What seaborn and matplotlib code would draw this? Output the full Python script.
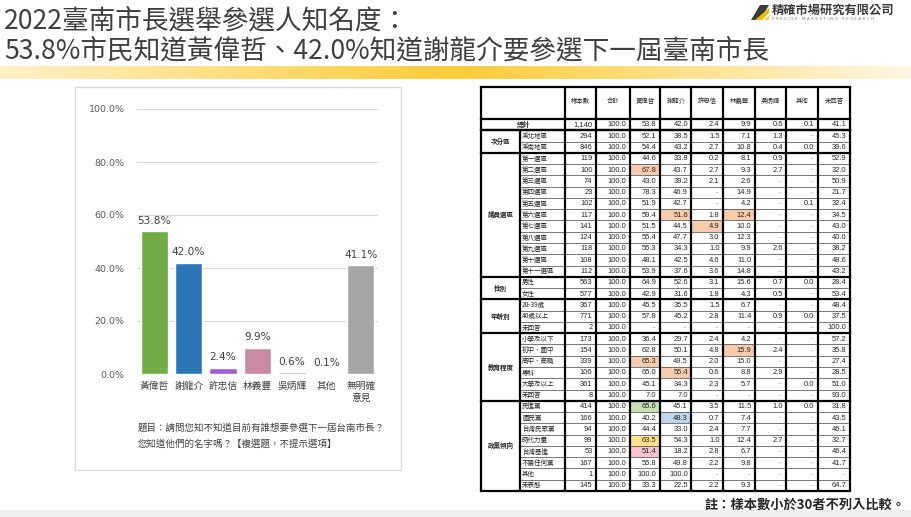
import matplotlib
matplotlib.use('Agg')
import matplotlib.pyplot as plt
import seaborn as sns
import numpy as np
from matplotlib.patches import Rectangle, Polygon
from matplotlib.colors import to_rgb

sns.set_theme(style='white')
plt.rcParams['font.family'] = ['Noto Sans CJK TC', 'DejaVu Sans']

# ---------------- data ----------------
title_line1 = '2022臺南市長選舉參選人知名度：'
title_line2 = '53.8%市民知道黃偉哲、42.0%知道謝龍介要參選下一屆臺南市長'

candidates = ['黃偉哲', '謝龍介', '許忠信', '林義豐', '吳炳輝', '其他', '無明確\n意見']
awareness = [53.8, 42.0, 2.4, 9.9, 0.6, 0.1, 41.1]
bar_colors = ['#70AD47', '#2E75B6', '#A05FD2', '#C98AA3', '#B4A5E6', '#D9D9D9', '#A5A5A5']
y_ticks = [0, 20, 40, 60, 80, 100]
question = '題目：請問您知不知道目前有誰想要參選下一屆台南市長？\n您知道他們的名字嗎？【複選題，不提示選項】'
note = '註：樣本數小於30者不列入比較。'

col_names = ['樣本數', '合計', '黃偉哲', '謝龍介', '許忠信', '林義豐', '吳炳輝', '其他', '未回答']
total_label = '總計'
total_vals = ['1,140', '100.0', '53.8', '42.0', '2.4', '9.9', '0.6', '0.1', '41.1']

group_names = ['次分區', '議員選區', '性別', '年齡別', '教育程度', '政黨傾向']

region_rows = ['溪北地區', '溪南地區']
region_vals = [
    ['294', '100.0', '52.1', '38.5', '1.5', '7.1', '1.3', '-', '45.3'],
    ['846', '100.0', '54.4', '43.2', '2.7', '10.8', '0.4', '0.0', '39.6'],
]
district_rows = ['第一選區', '第二選區', '第三選區', '第四選區', '第五選區', '第六選區',
                 '第七選區', '第八選區', '第九選區', '第十選區', '第十一選區']
district_vals = [
    ['119', '100.0', '44.6', '33.8', '0.2', '8.1', '0.9', '-', '52.9'],
    ['100', '100.0', '67.8', '43.7', '2.7', '9.3', '2.7', '-', '32.0'],
    ['74', '100.0', '43.0', '39.2', '2.1', '2.6', '-', '-', '50.9'],
    ['23', '100.0', '78.3', '46.9', '-', '14.9', '-', '-', '21.7'],
    ['102', '100.0', '51.9', '42.7', '-', '4.2', '-', '0.1', '32.4'],
    ['117', '100.0', '59.4', '51.6', '1.8', '12.4', '-', '-', '34.5'],
    ['141', '100.0', '51.5', '44.5', '4.9', '10.0', '-', '-', '43.0'],
    ['124', '100.0', '55.4', '47.7', '3.0', '12.3', '-', '-', '40.0'],
    ['118', '100.0', '55.3', '34.3', '1.0', '9.9', '2.6', '-', '38.2'],
    ['108', '100.0', '48.1', '42.5', '4.6', '11.0', '-', '-', '48.6'],
    ['112', '100.0', '53.9', '37.6', '3.6', '14.8', '-', '-', '43.2'],
]
gender_rows = ['男性', '女性']
gender_vals = [
    ['563', '100.0', '64.9', '52.6', '3.1', '15.6', '0.7', '0.0', '28.4'],
    ['577', '100.0', '42.9', '31.6', '1.8', '4.3', '0.5', '-', '53.4'],
]
age_rows = ['20-39歲', '40歲以上', '未回答']
age_vals = [
    ['367', '100.0', '45.5', '35.5', '1.5', '6.7', '-', '-', '48.4'],
    ['771', '100.0', '57.8', '45.2', '2.8', '11.4', '0.9', '0.0', '37.5'],
    ['2', '100.0', '-', '-', '-', '-', '-', '-', '100.0'],
]
edu_rows = ['小學及以下', '初中、國中', '高中、高職', '專科', '大學及以上', '未回答']
edu_vals = [
    ['173', '100.0', '36.4', '29.7', '2.4', '4.2', '-', '-', '57.2'],
    ['154', '100.0', '62.8', '50.1', '4.8', '15.9', '2.4', '-', '35.8'],
    ['339', '100.0', '65.3', '49.5', '2.0', '15.0', '-', '-', '27.4'],
    ['106', '100.0', '65.0', '55.4', '0.6', '8.8', '2.9', '-', '28.5'],
    ['361', '100.0', '45.1', '34.3', '2.3', '5.7', '-', '0.0', '51.0'],
    ['8', '100.0', '7.0', '7.0', '-', '-', '-', '-', '93.0'],
]
party_rows = ['民進黨', '國民黨', '台灣民眾黨', '時代力量', '台灣基進', '不屬任何黨', '其他', '未表態']
party_vals = [
    ['414', '100.0', '65.6', '45.1', '3.5', '11.5', '1.0', '0.0', '31.8'],
    ['166', '100.0', '40.2', '48.3', '0.7', '7.4', '-', '-', '43.5'],
    ['94', '100.0', '44.4', '33.0', '2.4', '7.7', '-', '-', '46.1'],
    ['99', '100.0', '63.5', '54.3', '1.0', '12.4', '2.7', '-', '32.7'],
    ['53', '100.0', '51.4', '18.2', '2.8', '6.7', '-', '-', '46.4'],
    ['167', '100.0', '55.8', '49.8', '2.2', '9.8', '-', '-', '41.7'],
    ['1', '100.0', '100.0', '100.0', '-', '-', '-', '-', '-'],
    ['145', '100.0', '33.3', '22.5', '2.2', '9.3', '-', '-', '64.7'],
]

# highlighted cells: (group, row label, column, colour)
highlights = [
    ('議員選區', '第二選區', '黃偉哲', '#F8CBAD'),
    ('議員選區', '第六選區', '謝龍介', '#F8CBAD'),
    ('議員選區', '第六選區', '林義豐', '#F8CBAD'),
    ('議員選區', '第七選區', '許忠信', '#F8CBAD'),
    ('教育程度', '初中、國中', '林義豐', '#F8CBAD'),
    ('教育程度', '高中、高職', '黃偉哲', '#F8CBAD'),
    ('教育程度', '專科', '謝龍介', '#F8CBAD'),
    ('政黨傾向', '民進黨', '黃偉哲', '#C6E0B4'),
    ('政黨傾向', '國民黨', '謝龍介', '#BDD7EE'),
    ('政黨傾向', '時代力量', '黃偉哲', '#FFE38A'),
    ('政黨傾向', '台灣基進', '黃偉哲', '#F8C5CF'),
]

groups = [
    (group_names[0], region_rows, region_vals),
    (group_names[1], district_rows, district_vals),
    (group_names[2], gender_rows, gender_vals),
    (group_names[3], age_rows, age_vals),
    (group_names[4], edu_rows, edu_vals),
    (group_names[5], party_rows, party_vals),
]

# ---------------- figure ----------------
W, H = 912, 517
fig = plt.figure(figsize=(W / 100, H / 100), dpi=100)
fig.patch.set_facecolor('white')
bg = fig.add_axes([0, 0, 1, 1], zorder=0)
bg.set_xlim(0, W)
bg.set_ylim(H, 0)
bg.axis('off')

# title
title_color = '#3F3F3F'
bg.text(4, 21, title_line1, fontsize=19.2, color=title_color, va='center', ha='left')
bg.text(4, 51, title_line2, fontsize=19.2, color=title_color, va='center', ha='left')

# yellow gradient band
stops = [(0.0, '#FFF1C8'), (0.5, '#FFCB38'), (1.0, '#FFF7E2')]
xs = np.linspace(0, 1, 400)
grad = np.zeros((1, 400, 3))
for k in range(3):
    grad[0, :, k] = np.interp(xs, [s[0] for s in stops], [to_rgb(s[1])[k] for s in stops])
bg.imshow(grad, extent=[0, W, 79, 66], aspect='auto', zorder=1)

# bottom grey band
bg.add_patch(Rectangle((0, 510), W, 7, facecolor='#F0F0F0', edgecolor='none'))

# logo
bg.add_patch(Polygon([[751, 20], [760, 5], [769, 5], [760, 20]], closed=True, facecolor='#3A3A3A', edgecolor='none'))
bg.add_patch(Polygon([[755, 20], [769, 8], [769, 13], [762, 20]], closed=True, facecolor='#F2B705', edgecolor='none'))
bg.add_patch(Polygon([[764, 20], [769, 15], [769, 20]], closed=True, facecolor='#F7CF45', edgecolor='none'))
bg.text(772, 10, '精確市場研究有限公司', fontsize=8.8, fontweight='bold', color='#3A3A3A', va='center', ha='left')
bg.text(772, 19.5, 'P R E C I S E   M A R K E T I N G   R E S E A R C H', fontsize=3.1, color='#7F7F7F',
        va='center', ha='left', family=['DejaVu Sans'])

# chart box
bg.add_patch(Rectangle((75, 87), 326, 383, facecolor='white', edgecolor='#D9D9D9', lw=1))
bg.text(138, 436, question, fontsize=6.8, color='#404040', va='center', ha='left', linespacing=1.75)

# note
bg.text(906, 505, note, fontsize=9.5, fontweight='bold', color='#262626', va='center', ha='right')

# ---------------- bar chart ----------------
ax = fig.add_axes([137 / W, 1 - 374 / H, (378 - 137) / W, (374 - 109) / H], zorder=2)
ax.set_facecolor('none')
sns.barplot(x=candidates, y=awareness, hue=candidates, palette=bar_colors, legend=False,
            width=0.79, saturation=1, ax=ax, zorder=3)
ax.set_ylim(0, 100)
ax.set_xlim(-0.5, len(candidates) - 0.5)
ax.set_yticks(y_ticks)
ax.set_yticklabels([f'{t:.1f}%' for t in y_ticks], fontsize=6.8, color='#595959',
                   family=['DejaVu Sans'])
ax.tick_params(axis='y', length=0, pad=9)
ax.tick_params(axis='x', length=0, pad=5, labelsize=7, labelcolor='#404040')
for t in y_ticks:
    ax.axhline(t, color='#D9D9D9', lw=0.8, zorder=1)
for s in ax.spines.values():
    s.set_visible(False)
ax.set_xlabel('')
ax.set_ylabel('')
for cont, v in zip(ax.containers, awareness):
    ax.bar_label(cont, labels=[f'{v:.1f}%'], padding=4, fontsize=7.6, color='#404040',
                 family=['DejaVu Sans'])

# ---------------- table ----------------
col_x = [481, 520, 565, 596, 630, 660, 691.5, 723, 755, 786.5, 818, 850]
head_top, head_bot, table_bot = 87, 119, 491
n_rows = 1 + sum(len(g[1]) for g in groups)
row_h = (table_bot - head_bot) / n_rows
num_font = ['Liberation Sans', 'DejaVu Sans']
lab_font = ['Noto Sans CJK TC', 'DejaVu Sans']
thick, thin = 1.6, 0.5

# header
for j, name in enumerate(col_names):
    cx = (col_x[j + 2] + col_x[j + 3]) / 2
    bg.text(cx, (head_top + head_bot) / 2 - 2, name, fontsize=4.6, color='#262626',
            ha='center', va='center', family=lab_font)

def row_y(i):
    return head_bot + i * row_h

def draw_values(i, vals, grp=None, lab=None):
    y0 = row_y(i)
    for j, v in enumerate(vals):
        x0, x1 = col_x[j + 2], col_x[j + 3]
        if grp is not None:
            for (g, r, c, colr) in highlights:
                if g == grp and r == lab and c == col_names[j]:
                    bg.add_patch(Rectangle((x0, y0), x1 - x0, row_h, facecolor=colr,
                                           edgecolor='none', zorder=1))
        bg.text(x1 - 3.5 if v != '-' else x1 - 5, y0 + row_h / 2 + 0.3, v, fontsize=5.4,
                color='#262626' if v != '-' else '#8C8C8C', ha='right', va='center',
                family=num_font, zorder=3)

# total row
bg.text((col_x[0] + col_x[2]) / 2, row_y(0) + row_h / 2, total_label, fontsize=4.8,
        fontweight='bold', color='#262626', ha='center', va='center', family=lab_font)
draw_values(0, total_vals)

i = 1
group_bounds = [row_y(1)]
for gname, labels, vals in groups:
    start = i
    for lab, vv in zip(labels, vals):
        y0 = row_y(i)
        bg.text(col_x[1] + 2, y0 + row_h / 2, lab, fontsize=4.7, color='#262626',
                ha='left', va='center', family=lab_font, zorder=3)
        draw_values(i, vv, gname, lab)
        if i > start:
            bg.plot([col_x[1], col_x[-1]], [y0, y0], color='#404040', lw=thin, zorder=2)
        i += 1
    gy = (row_y(start) + row_y(i)) / 2
    bg.text((col_x[0] + col_x[1]) / 2, gy, gname, fontsize=4.7, fontweight='bold',
            color='#262626', ha='center', va='center', family=lab_font, zorder=3)
    group_bounds.append(row_y(i))

# thick horizontal lines
for yb in [head_top, head_bot, row_y(1)] + group_bounds:
    bg.plot([col_x[0], col_x[-1]], [yb, yb], color='black', lw=thick, zorder=4,
            solid_capstyle='projecting')
# thick vertical lines
for k, xb in enumerate(col_x):
    if k == 1:
        bg.plot([xb, xb], [row_y(1), table_bot], color='black', lw=thick, zorder=4)
    else:
        bg.plot([xb, xb], [head_top, table_bot], color='black', lw=thick, zorder=4)

fig.savefig('out.png', dpi=100, facecolor='white')
